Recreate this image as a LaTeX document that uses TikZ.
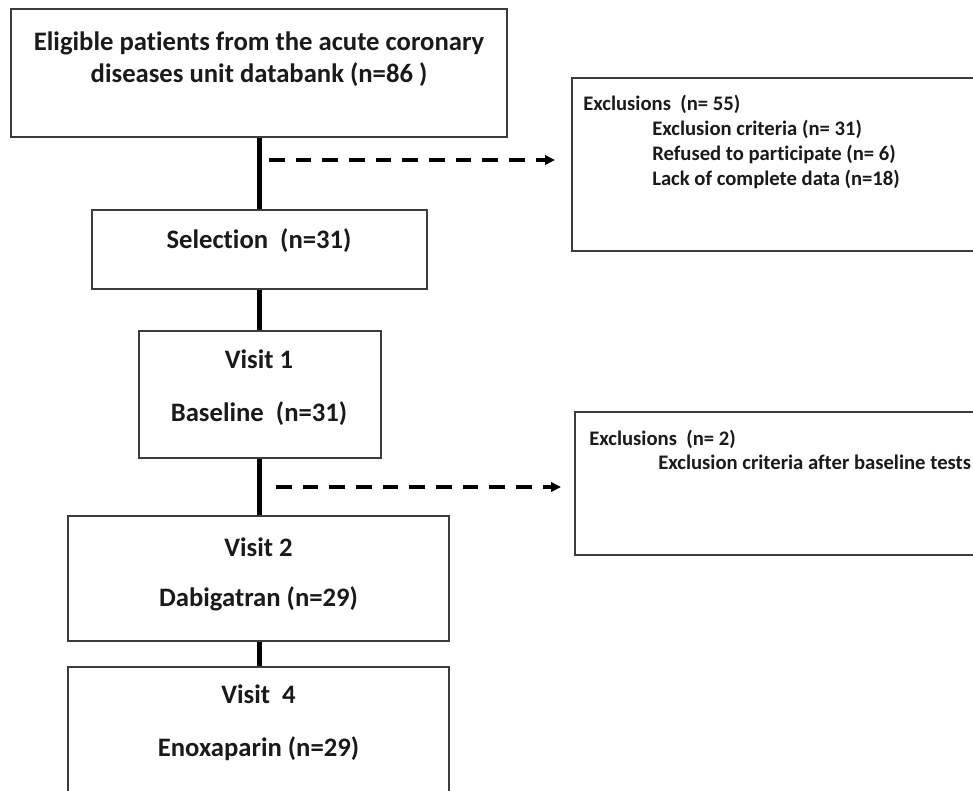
\documentclass[tikz,border=0pt]{standalone}
\usepackage{fontspec}
\setmainfont{Carlito}[Ligatures=NoCommon]
\usetikzlibrary{arrows.meta}
\definecolor{boxline}{HTML}{3C3C3C}
\definecolor{ink}{HTML}{1A1A1A}
\tikzset{
  box/.style={draw=boxline, line width=1.5pt, rectangle, inner sep=0pt, fill=white},
  bigtext/.style={inner sep=0pt, anchor=base, text=ink, font=\fontsize{20pt}{24pt}\selectfont\bfseries},
  smalltext/.style={inner sep=0pt, anchor=base west, text=ink, font=\fontsize{15.5pt}{18pt}\selectfont\bfseries},
  trunk/.style={line width=3.75pt, black},
  dasharrow/.style={line width=3pt, black, dash pattern=on 11.8pt off 8.2pt,
    -{Triangle[length=7.5pt, width=7pt]}}
}
\begin{document}
\begin{tikzpicture}[x=0.75pt, y=-0.75pt]
\useasboundingbox (0,0) rectangle (973,790);
\clip (0,0) rectangle (973,790);
\fill[white] (0,0) rectangle (973,790);

% boxes
\node[box, minimum width=496*0.75pt, minimum height=128*0.75pt] (top) at (259,73) {};
\node[box, minimum width=438*0.75pt, minimum height=173*0.75pt] (ex1) at (791,164.5) {};
\node[box, minimum width=335*0.75pt, minimum height=79*0.75pt] (sel) at (259.5,249.5) {};
\node[box, minimum width=242*0.75pt, minimum height=127*0.75pt] (v1) at (260,394.5) {};
\node[box, minimum width=435*0.75pt, minimum height=143*0.75pt] (ex2) at (792.5,483.5) {};
\node[box, minimum width=381*0.75pt, minimum height=125*0.75pt] (v2) at (258.5,578.5) {};
\node[box, minimum width=381*0.75pt, minimum height=163*0.75pt] (v4) at (258.5,748.5) {};

% trunk connectors
\draw[trunk] (top.south -| 259,0) -- (sel.north -| 259,0);
\draw[trunk] (sel.south -| 259,0) -- (v1.north -| 259,0);
\draw[trunk] (v1.south -| 259,0) -- (v2.north -| 259,0);
\draw[trunk] (v2.south -| 259,0) -- (v4.north -| 259,0);

% dashed arrows
\coordinate (a1s) at (269,160);
\coordinate (a1e) at (555,160);
\draw[dasharrow] (a1s) -- (a1e);
\coordinate (a2s) at (276,487);
\coordinate (a2e) at (561,487);
\draw[dasharrow] (a2s) -- (a2e);

% texts
\node[bigtext] (t1a) at (259,50) {Eligible patients from the acute coronary};
\node[bigtext] (t1b) at (259,82) {diseases unit databank (n=86 )};
\node[bigtext] (tsel) at (259,248) {Selection\ \ (n=31)};
\node[bigtext] (tv1a) at (259,368) {Visit 1};
\node[bigtext] (tv1b) at (259,421) {Baseline\ \ (n=31)};
\node[bigtext] (tv2a) at (258.5,556) {Visit 2};
\node[bigtext] (tv2b) at (258.5,606) {Dabigatran (n=29)};
\node[bigtext] (tv4a) at (258.5,703) {Visit\ \ 4};
\node[bigtext] (tv4b) at (258.5,756) {Enoxaparin (n=29)};

\node[smalltext] (e1a) at (583,110) {Exclusions\ \ (n= 55)};
\node[smalltext] (e1b) at (652,135) {Exclusion criteria (n= 31)};
\node[smalltext] (e1c) at (652,160) {Refused to participate (n= 6)};
\node[smalltext] (e1d) at (652,185) {Lack of complete data (n=18)};
\node[smalltext] (e2a) at (589,445) {Exclusions\ \ (n= 2)};
\node[smalltext] (e2b) at (658,469) {Exclusion criteria after baseline tests};
\end{tikzpicture}
\end{document}
